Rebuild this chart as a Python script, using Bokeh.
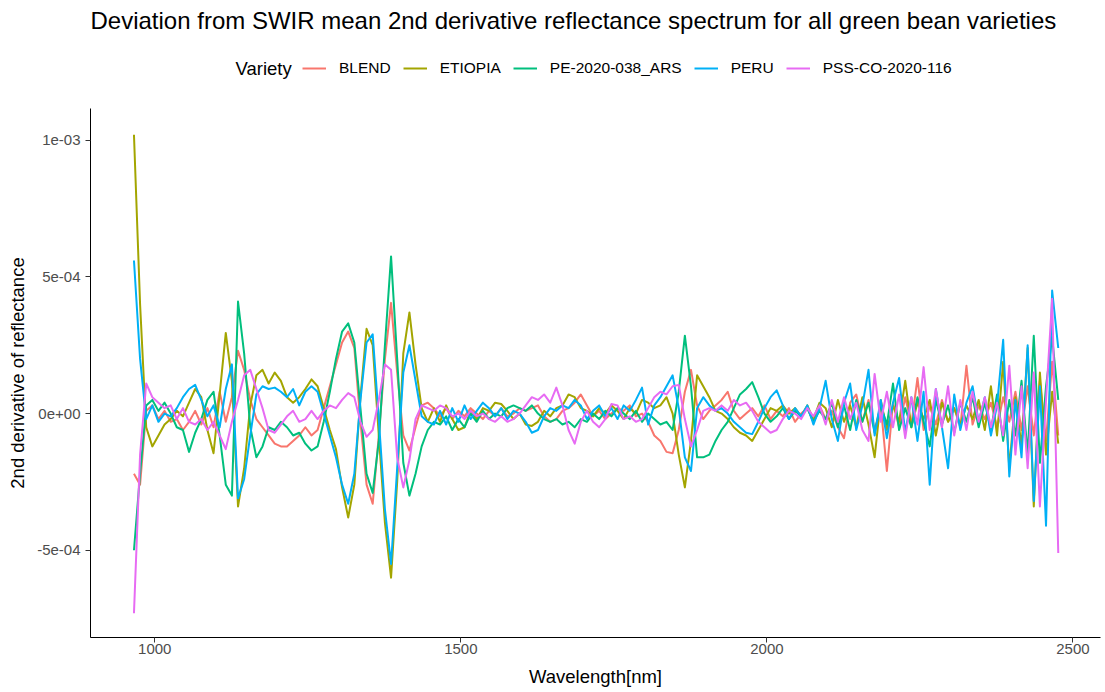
from bokeh.plotting import figure
from bokeh.layouts import column
from bokeh.models import (Legend, LegendItem, FixedTicker, CustomJSTickFormatter,
                          Range1d, Label)
from bokeh.embed import file_html
from bokeh.resources import INLINE

# ---------------- data ----------------
TITLE = "Deviation from SWIR mean 2nd derivative reflectance spectrum for all green bean varieties"
X_LABEL = "Wavelength[nm]"
Y_LABEL = "2nd derivative of reflectance"
LEGEND_TITLE = "Variety"

# wavelength grid (nm), 10 nm sampling
wavelength = list(range(966, 2477, 10))

varieties = ["BLEND", "ETIOPIA", "PE-2020-038_ARS", "PERU", "PSS-CO-2020-116"]
colors = ["#F8766D", "#A3A500", "#00BF7D", "#00B0F6", "#E76BF3"]

# values in units of 1e-4
blend = [
    -2.2, -2.6, 0.1, 0.3, -0.2, 0.1, -0.3, -0.2, -0.6, -0.3,
    0.1, -0.4, 0.2, -0.5, 0.8, -0.3, 0.6, 2.3, 1.6, 0.5,
    -0.2, -0.5, -0.8, -1.1, -1.2, -1.2, -1.0, -0.8, -0.5, -0.8,
    -0.6, 0.2, 1.0, 1.8, 2.6, 3.0, 2.4, -0.3, -2.6, -3.3,
    -0.8, 2.0, 4.05, 1.5, -0.8, -1.35, -0.5, 0.3, 0.4, 0.2,
    -0.1, 0.2, -0.2, 0.1, -0.1, 0.2, 0.0, -0.2, 0.1, -0.1,
    0.2, -0.1, 0.0, 0.2, 0.1, 0.2, 0.3, -0.1, -0.3, -0.2,
    0.1, 0.2, 0.4, 0.7, 0.3, -0.1, 0.1, -0.2, 0.0, 0.2,
    0.1, 0.3, -0.1, 0.0, -0.3, -0.8, -1.0, -1.4, -1.45, -0.6,
    0.8, 1.6, 0.3, -0.2, 0.1, 0.3, 0.5, 0.8, 0.1, -0.2,
    0.0, 0.2, -0.1, 0.3, -0.2, 0.1, -0.1, 0.2, -0.3, 0.0,
    0.2, -0.3, 0.3, -0.2, 0.1, -0.5, -0.9, 0.4, 0.7, -0.3,
    0.5, -0.6, 0.3, -2.1, 0.4, -0.5, 0.6, -0.4, 1.3, -0.6,
    0.3, -0.4, 0.5, -0.3, 0.2, -0.5, 1.75, -0.4, 0.3, -0.2,
    0.4, -0.5, 0.6, -0.3, 0.8, -0.6, 1.0, -0.8, 1.2, -1.0,
    1.9, -0.8,
]
etiopia = [
    10.2, 4.0, -0.5, -1.2, -0.8, -0.4, -0.2, 0.1, -0.1, 0.4,
    0.9, 0.6, -0.6, -1.45, 0.7, 2.95, 1.2, -3.4, -2.0, 0.3,
    1.4, 1.6, 1.1, 1.5, 1.2, 0.6, 0.4, 0.6, 0.9, 1.25,
    1.0, 0.2, -0.6, -1.3, -2.7, -3.8, -2.6, 0.6, 3.1, 2.5,
    -0.8, -4.0, -6.0, -2.5, 2.2, 3.7, 1.8, 0.2, -0.3, 0.2,
    -0.3, 0.3, -0.2, -0.6, -0.5, 0.1, -0.2, 0.2, 0.1, 0.4,
    0.35, 0.1, -0.2, 0.0, -0.4, -0.45, -0.3, 0.1, -0.1, 0.2,
    0.3, 0.7, 0.6, 0.2, 0.1, -0.1, 0.2, 0.0, 0.3, 0.1,
    -0.2, 0.2, 0.0, 0.5, 0.4, 0.2, 0.3, 0.6, 0.0, -1.5,
    -2.7, -1.0, 1.4, 1.0, 0.6, 0.1, 0.0, -0.2, -0.5, -0.7,
    -0.8, -1.0, -0.6, -0.2, 0.2, 0.1, 0.3, 0.0, 0.2, -0.1,
    0.3, -0.2, 0.4, 0.2, -0.5, 0.5, -0.3, 0.3, -0.5, 0.6,
    -0.4, -1.6, 0.5, -0.6, 0.3, -0.3, 1.2, -0.5, 0.4, -0.2,
    0.5, -0.8, 0.4, -0.3, 0.2, -0.4, 0.3, -0.2, 0.5, -0.6,
    1.0, -0.8, 1.9, -2.0, 0.6, -1.2, 2.4, -3.4, 1.5, -1.5,
    0.8, -1.1,
]
pe_2020_038_ars = [
    -5.0, -2.2, 0.3, 0.5, 0.1, 0.4, 0.0, -0.5, -0.6, -1.4,
    -0.7, -0.2, 0.5, 0.8, -0.8, -2.6, -3.0, 4.1, 2.2, -0.5,
    -1.6, -1.2, -0.5, -0.6, -0.3, -0.5, -0.8, -0.7, -1.1, -1.35,
    -1.2, -0.3, 0.8, 2.0, 3.0, 3.3, 2.6, 0.2, -2.2, -2.9,
    -1.0, 2.5, 5.75, 2.0, -1.8, -3.0, -2.2, -1.2, -0.6, -0.3,
    -0.4, -0.1, -0.6, -0.2, -0.5, 0.0, -0.3, 0.1, -0.2, 0.0,
    -0.1, 0.2, 0.3, 0.2, 0.1, 0.3, 0.0, -0.2, -0.3, -0.2,
    -0.4, -0.3, -0.5, -0.2, -0.3, 0.0, -0.2, 0.1, -0.1, 0.2,
    0.0, -0.2, 0.1, -0.3, 0.0, -0.2, -0.4, -0.3, -0.6, 0.8,
    2.85, 1.0, -1.6, -1.6, -1.5, -1.0, -0.6, -0.3, 0.2, 0.7,
    0.9, 1.15, 0.6, 0.0, -0.3, -0.1, 0.2, -0.2, 0.1, -0.1,
    0.2, -0.3, 0.1, -0.2, 0.4, -0.5, 0.3, -0.6, 0.5, -0.3,
    0.4, -0.7, 0.3, -0.4, 1.1, -0.6, 0.2, -0.5, 0.6, -0.3,
    -1.2, 0.5, -0.4, 0.3, -0.7, 0.4, -0.3, 0.6, -0.5, 0.4,
    -0.6, 0.7, -1.0, 0.5, -0.8, 1.2, -1.5, 2.85, -1.8, 1.0,
    2.8, 0.5,
]
peru = [
    5.6, 2.0, -0.2, 0.3, -0.3, 0.0, -0.1, 0.2, 0.6, 0.9,
    1.05, 0.5, -0.1, 0.3, -0.5, 0.9, 1.8, -3.1, -2.4, -0.8,
    0.7, 1.0, 0.9, 0.95, 0.8, 0.6, 0.9, 0.3, 0.8, 1.0,
    0.8, 0.0, -0.8, -1.6, -2.6, -3.3, -2.2, 0.5, 2.6, 2.9,
    -0.2, -3.5, -5.5, -2.0, 1.5, 2.5, 1.2, -0.1, -0.3, -0.4,
    0.1, -0.4, 0.2, -0.3, 0.3, -0.2, 0.1, 0.4, 0.2, -0.1,
    0.2, -0.2, 0.1, 0.0, -0.3, -0.7, -0.6, -0.1, 0.2, 0.1,
    0.3, 0.2, 0.5, 0.3, -0.2, 0.1, 0.3, -0.1, 0.2, -0.2,
    0.3, 0.1, 0.5, 0.95, -0.4, 0.3, 0.6, 1.0, 1.4, 0.2,
    -1.6, -2.1, 0.2, 0.6, 0.3, 0.1, 0.2, 0.0, -0.3, -0.5,
    -0.7, -0.75, -0.3, 0.2, 0.6, 0.85, 0.3, -0.2, 0.2, -0.1,
    0.3, -0.4, 0.2, 1.2, -0.2, -1.0, 0.4, 1.1, -0.6, 0.3,
    1.6, -0.8, 0.5, -0.9, 0.4, 1.3, -0.7, 0.6, -1.0, 0.8,
    -2.6, 0.9, -0.5, -2.0, 0.7, -0.6, 0.4, 1.0, -0.3, 0.6,
    -0.8, 0.3, 2.7, -2.3, 0.5, -1.6, 2.5, -3.2, 1.0, -4.1,
    4.5, 2.4,
]
pss_co_2020_116 = [
    -7.3, -1.5, 1.1, 0.6, 0.4, 0.2, 0.3, -0.2, 0.2, -0.3,
    -0.4, -0.2, -0.6, -0.3, -0.8, -1.3, -0.3, 0.5, 1.4, 1.6,
    0.9, 0.2, -0.6, -0.7, -0.4, -0.1, 0.1, -0.3, -0.2, 0.1,
    -0.2, 0.1, 0.3, 0.2, 0.5, 0.75, 0.6, -0.3, -0.85, -0.6,
    0.5, 1.8, 1.6, -1.6, -2.7, -1.7, -0.2, 0.3, 0.2, 0.1,
    0.3, 0.2, -0.1, 0.0, -0.2, 0.1, -0.1, 0.0, -0.2, -0.3,
    -0.1, -0.3, -0.2, 0.0, 0.3, 0.6, 0.5, 0.7, 0.4, 0.95,
    0.3, -0.6, -1.1, -0.3, 0.1, -0.3, -0.5, -0.2, 0.35, 0.3,
    -0.2, -0.1, -0.3, -0.2, 0.2, 0.6, 0.8, 0.7, 1.0, 1.05,
    -0.2, -1.2, -0.6, 0.1, 0.2, 0.1, 0.3, 0.1, 0.5, 0.3,
    0.4, 0.1, -0.3, -0.5, -0.7, -0.6, -0.2, 0.1, 0.0, -0.2,
    0.2, -0.1, 0.3, -0.4, 0.5, -0.3, 0.6, -0.2, 0.4, -0.6,
    -1.0, 1.45, -0.3, 0.8, -0.5, 0.7, -0.9, 0.6, -0.4, 1.7,
    -0.6, 0.9, -0.5, 1.0, -0.8, 0.5, -0.6, 0.8, -0.3, 0.6,
    -0.5, 0.4, -0.8, 1.75, -1.5, 1.0, -2.0, 1.5, -3.4, 0.5,
    4.2, -5.1,
]
UNIT = 1e-4
series = [blend, etiopia, pe_2020_038_ars, peru, pss_co_2020_116]

x_ticks = [1000, 1500, 2000, 2500]
y_ticks = [-5e-4, 0.0, 5e-4, 1e-3]

FONT = "Liberation Sans"
W, H_HEAD, H_MAIN = 1105, 108, 584

# ---------------- header: title + legend ----------------
# (its frame is aligned with the main plot's frame, which starts 90 px in)
head = figure(width=W, height=H_HEAD, output_backend="svg", toolbar_location=None,
              x_range=Range1d(0, 1), y_range=Range1d(0, 1),
              x_axis_type=None, y_axis_type=None,
              min_border_left=0, min_border_right=0, min_border_top=0,
              min_border_bottom=0)
head.title = None
head.outline_line_color = None
head.background_fill_color = "white"
head.border_fill_color = "white"
head.xgrid.visible = False
head.ygrid.visible = False

head.add_layout(Label(x=0, y=H_HEAD - 20, x_units="screen", y_units="screen",
                      text=TITLE, text_font=FONT, text_font_size="24px",
                      text_color="black", text_baseline="alphabetic",
                      text_align="left"))
head.add_layout(Label(x=145, y=H_HEAD - 68, x_units="screen", y_units="screen",
                      text=LEGEND_TITLE, text_font=FONT, text_font_size="18.5px",
                      text_color="black", text_baseline="middle",
                      text_align="left"))

# legend keys: lines kept outside the header's visible range
keys = []
for name, col in zip(varieties, colors):
    k = head.line(x=[-2, -1], y=[-2, -1], line_color=col, line_width=2)
    keys.append(LegendItem(label=name, renderers=[k]))
legend = Legend(items=keys, orientation="horizontal",
                location=(212, H_HEAD - 68 - 10),
                glyph_width=24, glyph_height=20, label_height=20,
                label_standoff=13, spacing=12, padding=0, margin=0,
                label_text_font=FONT, label_text_font_size="15.5px",
                label_text_color="black", label_text_baseline="middle",
                border_line_color=None, background_fill_alpha=0)
head.add_layout(legend, "center")

# ---------------- main plot ----------------
p = figure(width=W, height=H_MAIN, output_backend="svg", toolbar_location=None,
           x_range=Range1d(895, 2545), y_range=Range1d(-8.19e-4, 11.16e-4),
           min_border_left=90, min_border_right=5, min_border_bottom=55,
           min_border_top=0)
p.title = None
p.background_fill_color = "white"
p.border_fill_color = "white"
p.outline_line_color = None
p.xgrid.visible = False
p.ygrid.visible = False

for vals, name, col in zip(series, varieties, colors):
    p.line(wavelength, [v * UNIT for v in vals], line_color=col,
           line_width=2, line_join="round")

for ax in (p.xaxis[0], p.yaxis[0]):
    ax.axis_line_color = "black"
    ax.axis_line_width = 1
    ax.major_tick_line_color = "#333333"
    ax.major_tick_out = 5
    ax.major_tick_in = 0
    ax.minor_tick_line_color = None
    ax.major_label_text_font = FONT
    ax.major_label_text_font_size = "15px"
    ax.major_label_text_color = "#4D4D4D"
    ax.axis_label_text_font = FONT
    ax.axis_label_text_font_size = "18.5px"
    ax.axis_label_text_font_style = "normal"
    ax.axis_label_text_color = "black"

p.xaxis[0].ticker = FixedTicker(ticks=x_ticks)
p.xaxis[0].axis_label = X_LABEL
p.xaxis[0].major_label_standoff = 1
p.xaxis[0].axis_label_standoff = 9

p.yaxis[0].ticker = FixedTicker(ticks=y_ticks)
p.yaxis[0].axis_label = Y_LABEL
p.yaxis[0].major_label_standoff = 5
p.yaxis[0].axis_label_standoff = 6
p.yaxis[0].formatter = CustomJSTickFormatter(code="""
    if (tick == 0) { return "0e+00"; }
    const s = tick.toExponential(0);
    const parts = s.split("e");
    const e = parseInt(parts[1]);
    const a = Math.abs(e);
    return parts[0] + "e" + (e < 0 ? "-" : "+") + (a < 10 ? "0" + a : "" + a);
""")

layout = column(head, p, spacing=0)
open("out.html", "w").write(file_html(layout, INLINE))
